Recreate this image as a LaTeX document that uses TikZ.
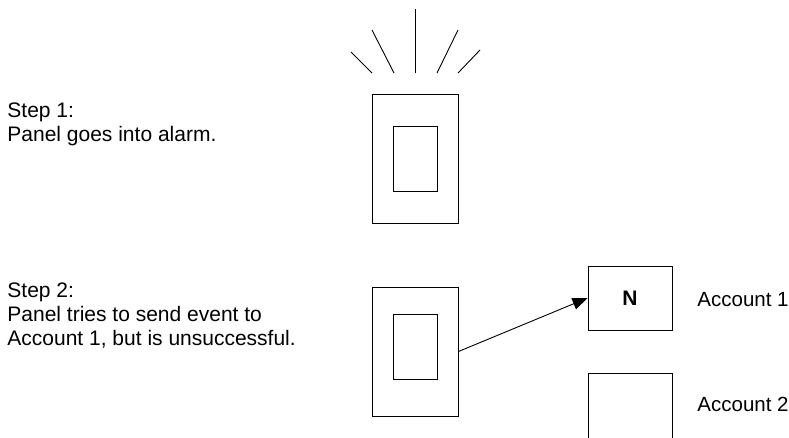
\documentclass[tikz,border=0pt]{standalone}
\usepackage{fontspec}
\setmainfont{Liberation Sans}
\usetikzlibrary{arrows.meta}

\begin{document}
\begin{tikzpicture}[x=1pt, y=-1pt, line width=0.9pt,
    case/.style={draw, minimum width=86pt, minimum height=129pt, inner sep=0pt},
    screen/.style={draw, minimum width=44pt, minimum height=65pt, inner sep=0pt},
    acct/.style={draw, minimum width=84pt, minimum height=64pt, inner sep=0pt,
                 font=\fontsize{21}{24}\selectfont\bfseries},
    caption/.style={align=left, inner sep=0pt, font=\fontsize{21}{24}\selectfont},
    label/.style={inner sep=0pt, font=\fontsize{20.5}{24}\selectfont}]
  \clip (0,0) rectangle (789,437);
  % step 1: panel in alarm
  \node[caption, anchor=base west] (step1) at (7,141)
    {Step 1:\\Panel goes into alarm.};
  \node[case] (panel1) at (415,158.5) {};
  \node[screen] (screen1) at (415,158.5) {};
  % alarm rays above the panel
  \foreach \xa/\ya/\xb in {351/52/372, 372/30/394, 415/9/415, 458/30/437, 480/50/458}
    \draw (\xa,\ya) -- (\xb,73);
  % step 2: panel tries account 1
  \node[caption, anchor=base west] (step2) at (7,345)
    {Step 2:\\Panel tries to send event to\\Account 1, but is unsuccessful.};
  \node[case] (panel2) at (415,351.5) {};
  \node[screen] (screen2) at (415,347) {};
  \node[acct] (acct1) at (630,298) {N};
  \node[acct, minimum height=80pt] (acct2) at (630,413) {};
  \node[label, anchor=base west] (name1) at (697,306) {Account 1};
  \node[label, anchor=base west] (name2) at (697,411) {Account 2};
  \draw[-{Triangle[length=15pt, width=12pt]}] (panel2.east) -- (acct1.west);
\end{tikzpicture}
\end{document}
